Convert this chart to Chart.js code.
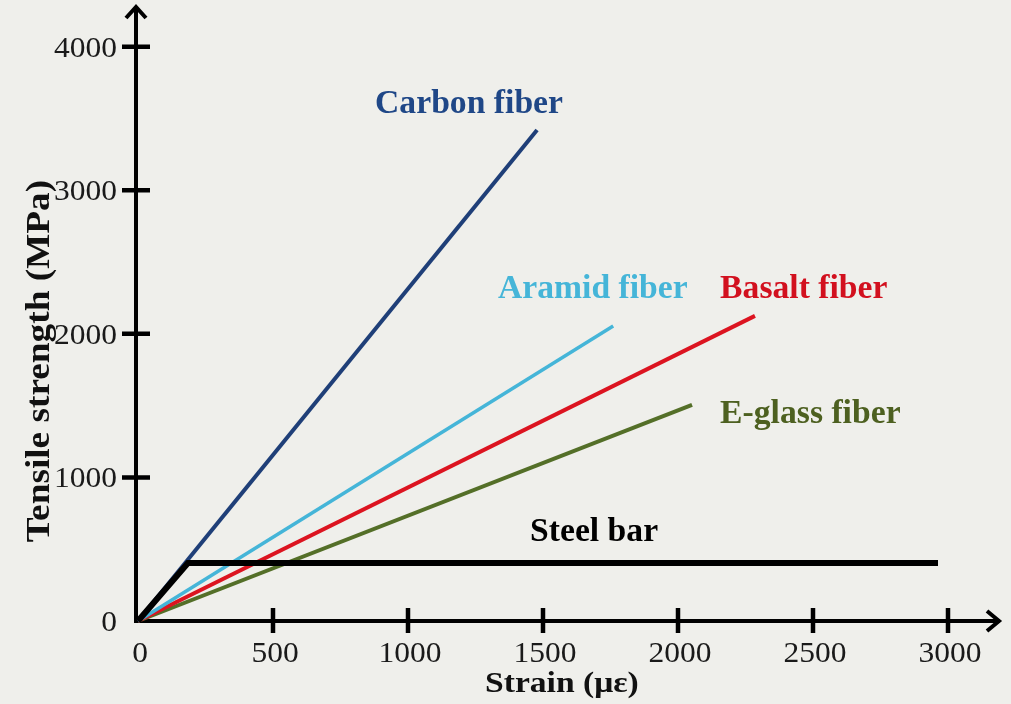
<!DOCTYPE html>
<html>
<head>
<meta charset="utf-8">
<script src="https://cdn.jsdelivr.net/npm/chart.js@4.4.1/dist/chart.umd.min.js"></script>
<style>
  html, body { margin: 0; padding: 0; background: #efefeb; }
  #wrap { width: 1011px; height: 704px; position: relative; }
</style>
</head>
<body>
<div id="wrap"><canvas id="grafico"></canvas></div>
<script>
// dados (deformação em με, resistência em MPa)
const series = ['Steel bar', 'Carbon fiber', 'Aramid fiber', 'Basalt fiber', 'E-glass fiber'];
const strainSteel = [0, 185, 2963];
const strengthSteel = [0, 404, 404];
const strainCarbon = [0, 1478];
const strengthCarbon = [0, 3420];
const strainAramid = [0, 1760];
const strengthAramid = [0, 2055];
const strainBasalt = [0, 2285];
const strengthBasalt = [0, 2125];
const strainGlass = [0, 2052];
const strengthGlass = [0, 1505];

// ticks dos eixos
const xTicks = [0, 500, 1000, 1500, 2000, 2500, 3000];
const yTicks = [0, 1000, 2000, 3000, 4000];
const xMax = 3200;
const yMax = 4290;

// posição (em unidades dos dados) dos rótulos de cada série
const labelX = [1452, 878, 1333, 2156, 2156];
const labelY = [557, 3540, 2251, 2251, 1380];

const lineColors = ['#000000', '#1f3f78', '#45b5d8', '#dc1420', '#546f28'];
const textColors = ['#000000', '#1f4787', '#45b5d8', '#d2101e', '#4d6020'];
const lineWidths = [6, 4, 3.5, 4, 4];

function pts(xs, ys) {
    return xs.map((x, i) => ({ x: x, y: ys[i] }));
}

const allData = [
    pts(strainSteel, strengthSteel),
    pts(strainCarbon, strengthCarbon),
    pts(strainAramid, strengthAramid),
    pts(strainBasalt, strengthBasalt),
    pts(strainGlass, strengthGlass)
];

// texto com escala horizontal (a fonte da figura é mais larga)
function textoLargo(ctx, txt, x, y, sx, align) {
    ctx.save();
    ctx.translate(x, y);
    ctx.scale(sx, 1);
    ctx.textAlign = align;
    ctx.fillText(txt, 0, 0);
    ctx.restore();
}

const eixosPlugin = {
    id: 'eixos',
    beforeDraw(chart) {
        const ctx = chart.ctx;
        ctx.save();
        ctx.fillStyle = '#efefeb';
        ctx.fillRect(0, 0, chart.width, chart.height);
        ctx.restore();
    },
    beforeDatasetsDraw(chart) {
        const ctx = chart.ctx;
        const xs = chart.scales.x, ys = chart.scales.y;
        const x0 = xs.getPixelForValue(0) - 2;
        const y0 = ys.getPixelForValue(0);
        const xEnd = xs.getPixelForValue(xMax);
        const yEnd = ys.getPixelForValue(yMax);
        ctx.save();
        ctx.strokeStyle = '#000';
        ctx.lineWidth = 4;
        ctx.lineCap = 'butt';
        // eixos
        ctx.beginPath();
        ctx.moveTo(x0, y0 + 2);
        ctx.lineTo(x0, yEnd + 2);
        ctx.moveTo(x0 - 2, y0);
        ctx.lineTo(xEnd - 2, y0);
        ctx.stroke();
        // setas
        ctx.lineJoin = 'miter';
        ctx.beginPath();
        ctx.moveTo(x0 - 10, yEnd + 13);
        ctx.lineTo(x0, yEnd + 2);
        ctx.lineTo(x0 + 10, yEnd + 13);
        ctx.moveTo(xEnd - 15, y0 - 10);
        ctx.lineTo(xEnd - 3, y0);
        ctx.lineTo(xEnd - 15, y0 + 10);
        ctx.stroke();
        // marcas
        ctx.lineWidth = 4.5;
        ctx.beginPath();
        xTicks.forEach(v => {
            if (v === 0) return;
            const px = xs.getPixelForValue(v);
            ctx.moveTo(px, y0 - 13);
            ctx.lineTo(px, y0 + 12);
        });
        yTicks.forEach(v => {
            if (v === 0) return;
            const py = ys.getPixelForValue(v);
            ctx.moveTo(x0 - 14, py);
            ctx.lineTo(x0 + 14, py);
        });
        ctx.stroke();

        // rótulos dos ticks
        ctx.fillStyle = '#1a1a1a';
        ctx.font = '30px "Liberation Serif"';
        ctx.textBaseline = 'alphabetic';
        xTicks.forEach(v => {
            textoLargo(ctx, String(v), xs.getPixelForValue(v) + 2, y0 + 41, 1.05, 'center');
        });
        yTicks.forEach(v => {
            textoLargo(ctx, String(v), x0 - 19, ys.getPixelForValue(v) + 10, 1.05, 'right');
        });

        // títulos dos eixos
        ctx.fillStyle = '#111';
        ctx.font = 'bold 30px "Liberation Serif"';
        textoLargo(ctx, 'Strain (\u03bc\u03b5)', xs.getPixelForValue(1570), y0 + 71, 1.12, 'center');
        ctx.save();
        ctx.translate(x0 - 87, ys.getPixelForValue(1810));
        ctx.rotate(-Math.PI / 2);
        ctx.scale(1.13, 1);
        ctx.textAlign = 'center';
        ctx.font = 'bold 33px "Liberation Serif"';
        ctx.fillText('Tensile strength (MPa)', 0, 0);
        ctx.restore();
        ctx.restore();
    },
    afterDatasetsDraw(chart) {
        const ctx = chart.ctx;
        const xs = chart.scales.x, ys = chart.scales.y;
        ctx.save();
        ctx.font = 'bold 33px "Liberation Serif"';
        ctx.textBaseline = 'alphabetic';
        series.forEach((nome, i) => {
            ctx.fillStyle = textColors[i];
            textoLargo(ctx, nome, xs.getPixelForValue(labelX[i]), ys.getPixelForValue(labelY[i]), 1.02, 'left');
        });
        ctx.restore();
    }
};

new Chart(document.getElementById('grafico'), {
    type: 'line',
    data: {
        datasets: series.map((nome, i) => ({
            label: nome,
            data: allData[i],
            borderColor: lineColors[i],
            borderWidth: lineWidths[i],
            pointRadius: 0,
            tension: 0,
            fill: false,
            clip: false,
            borderJoinStyle: 'miter'
        }))
    },
    options: {
        responsive: true,
        maintainAspectRatio: false,
        animation: false,
        layout: { padding: { left: 138, right: 9, top: 5, bottom: 83 } },
        plugins: { legend: { display: false }, tooltip: { enabled: false } },
        scales: {
            x: { type: 'linear', min: 0, max: xMax, display: false },
            y: { type: 'linear', min: 0, max: yMax, display: false }
        }
    },
    plugins: [eixosPlugin]
});
</script>
</body>
</html>
